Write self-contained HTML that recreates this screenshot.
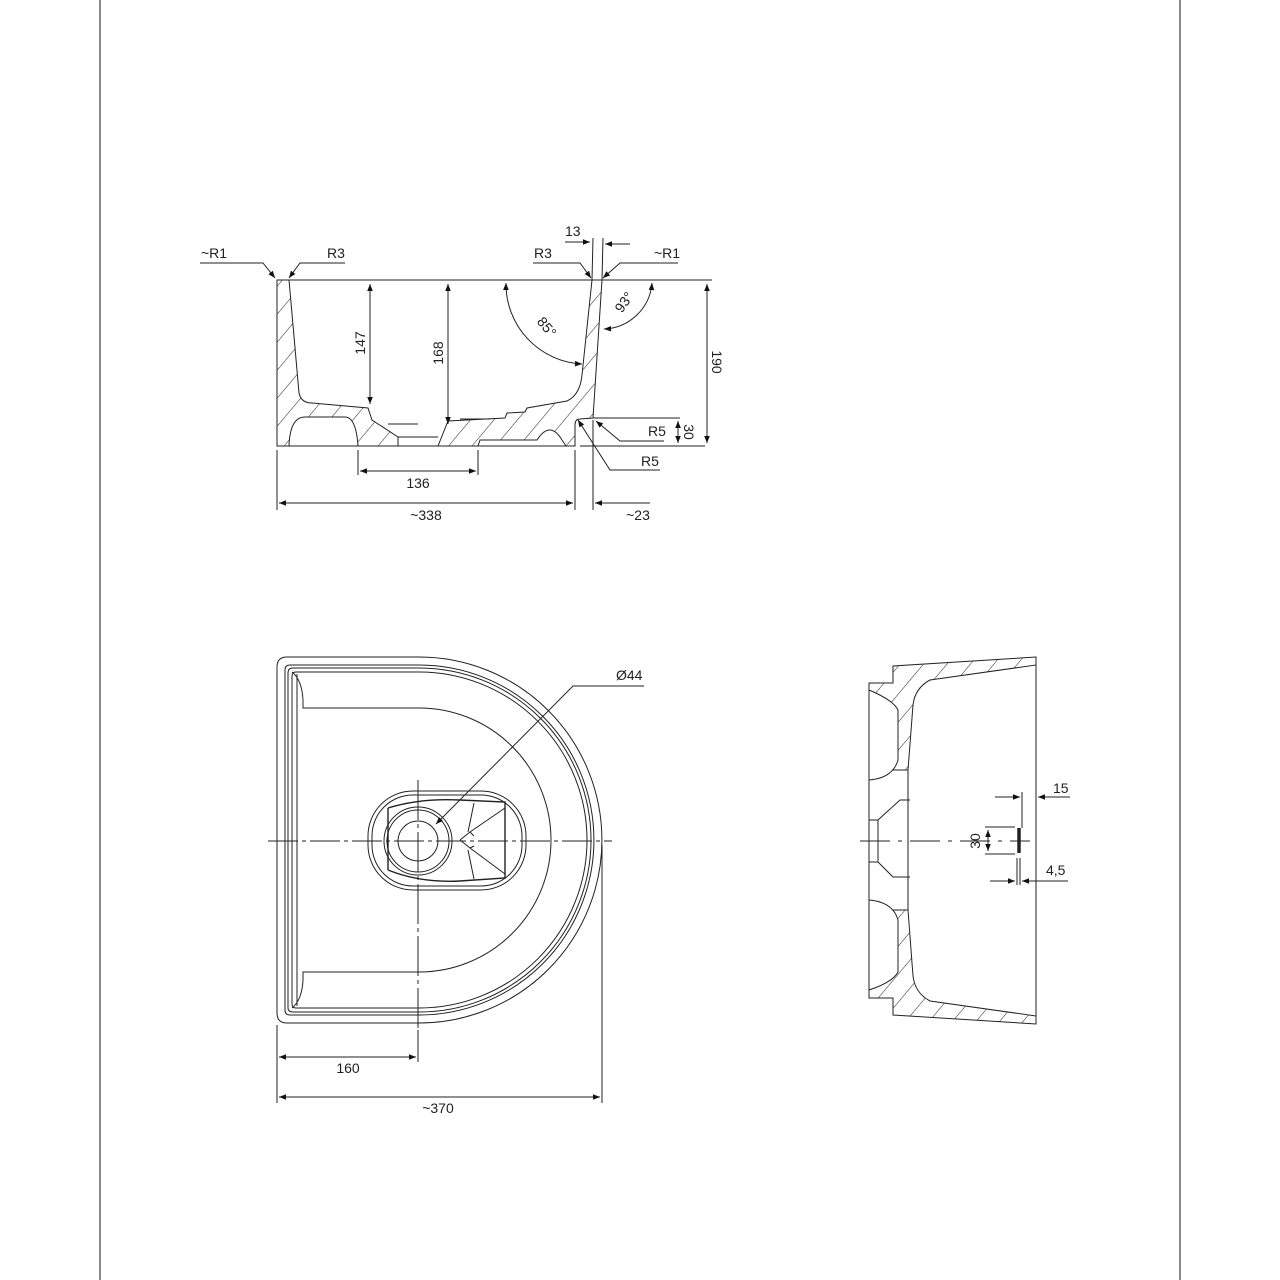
<!DOCTYPE html>
<html><head><meta charset="utf-8"><style>
html,body{margin:0;padding:0;background:#fff}
svg{display:block}
text{font-family:"Liberation Sans",sans-serif;font-size:14px;fill:#222}
</style></head><body>
<svg width="1280" height="1280" viewBox="0 0 1280 1280" xmlns="http://www.w3.org/2000/svg">
<defs>
<pattern id="h" patternUnits="userSpaceOnUse" width="18" height="18" patternTransform="rotate(40)">
<rect width="18" height="18" fill="#fff"/><line x1="0" y1="0" x2="0" y2="18" stroke="#333" stroke-width="1.1"/>
</pattern>
<marker id="a" viewBox="0 0 10 10" refX="10" refY="5" markerWidth="9" markerHeight="7" orient="auto-start-reverse" markerUnits="userSpaceOnUse"><path d="M0,1 L10,5 L0,9 z" fill="#111"/></marker>
</defs>
<g stroke="#222" fill="none" stroke-width="1">
<line x1="100" y1="0" x2="100" y2="1280" stroke="#111"/>
<line x1="1180" y1="0" x2="1180" y2="1280" stroke="#111"/>

<!-- TOP SECTION -->
<path d="M277,280 L289,280 L299,393 Q301,403 312,403 L368,408 L372,420 L398,437 L398,446 L277,446 Z" fill="url(#h)"/>
<path d="M289,446 Q290,417 305,417 L345,417 Q356,417 358,446 Z" fill="#fff"/>
<path d="M438,446 L448,421 L505,418 L507,413 L525,412 L527,408 L567,401 Q580,395 582,375 L592,280 L602,280 L593,418 L580,419 Q575,419 575,425 L575,446 Z" fill="url(#h)"/>
<path d="M478,446 L480,440 L537,440 Q550,420 562,440 L566,446 Z" fill="#fff" stroke="#222"/>
<line x1="277" y1="280" x2="712" y2="280"/>
<line x1="277" y1="446" x2="575" y2="446"/>
<line x1="580" y1="446" x2="705" y2="446"/>
<line x1="398" y1="437" x2="438" y2="437"/>
<line x1="388" y1="424" x2="418" y2="424"/>
<line x1="460" y1="419" x2="490" y2="419"/>
<line x1="593" y1="418" x2="680" y2="418"/>
<line x1="370" y1="284" x2="370" y2="404" marker-start="url(#a)" marker-end="url(#a)"/>
<line x1="448" y1="284" x2="448" y2="424" marker-start="url(#a)" marker-end="url(#a)"/>
<line x1="707" y1="284" x2="707" y2="443" marker-start="url(#a)" marker-end="url(#a)"/>
<line x1="678" y1="421" x2="678" y2="443" marker-start="url(#a)" marker-end="url(#a)"/>
<path d="M506,283 A80,80 0 0 0 582,364" marker-start="url(#a)" marker-end="url(#a)"/>
<path d="M652,283 A50,50 0 0 1 604,329" marker-start="url(#a)" marker-end="url(#a)"/>
<path d="M200,263 L263,263 L275,278" marker-end="url(#a)"/>
<path d="M345,263 L300,263 L289,278" marker-end="url(#a)"/>
<path d="M533,263 L580,263 L591,278" marker-end="url(#a)"/>
<path d="M678,263 L620,263 L603,278" marker-end="url(#a)"/>
<path d="M664,441 L620,441 L596,421" marker-end="url(#a)"/>
<path d="M660,470 L610,470 L578,420" marker-end="url(#a)"/>
<line x1="592" y1="280" x2="593" y2="238"/>
<line x1="602" y1="280" x2="603" y2="238"/>
<line x1="565" y1="242" x2="590" y2="242" marker-end="url(#a)"/>
<line x1="630" y1="244" x2="605" y2="244" marker-end="url(#a)"/>
<line x1="358" y1="450" x2="358" y2="475"/>
<line x1="478" y1="450" x2="478" y2="475"/>
<line x1="360" y1="471" x2="476" y2="471" marker-start="url(#a)" marker-end="url(#a)"/>
<line x1="277" y1="450" x2="277" y2="510"/>
<line x1="575" y1="450" x2="575" y2="510"/>
<line x1="593" y1="420" x2="593" y2="510"/>
<line x1="279" y1="503" x2="573" y2="503" marker-start="url(#a)" marker-end="url(#a)"/>
<line x1="650" y1="503" x2="595" y2="503" marker-end="url(#a)"/>

<!-- PLAN VIEW -->
<path d="M287,657 L419,657 A183,183 0 0 1 419,1023 L287,1023 Q277,1023 277,1013 L277,667 Q277,657 287,657 Z"/>
<path d="M290,665 L419,665 A175,175 0 0 1 419,1015 L290,1015 Q285,1015 285,1010 L285,670 Q285,665 290,665 Z"/>
<path d="M293,668 L419,668 A172,172 0 0 1 419,1012 L293,1012 Q288,1012 288,1008 L288,673 Q288,668 293,668 Z"/>
<path d="M296,672 L419,672 A168,168 0 0 1 419,1008 L296,1008 Q292,1008 292,1004 L292,676 Q292,672 296,672 Z"/>
<path d="M292,672 Q302,680 303,700 L303,708 L419,708 A132,132 0 0 1 419,972 L303,972 L303,980 Q302,1000 292,1008"/>
<line x1="297" y1="674" x2="297" y2="1006"/>
<rect x="368" y="791" width="158" height="99" rx="45" ry="45"/>
<rect x="372" y="795" width="150" height="91" rx="41" ry="41"/>
<path d="M388,808 L388,870 M388,808 Q420,798 460,800 L505,802 L505,878 L460,881 Q420,883 388,870" stroke-width="1.4"/>
<circle cx="418" cy="841" r="34"/>
<circle cx="418" cy="841" r="31"/>
<circle cx="418" cy="841" r="20"/>
<path d="M460,840 L470,832 L505,808 M470,832 L474,836 M460,840 L470,848 L505,874 M470,848 L474,846 M474,803 L468,832 M474,879 L468,850"/>
<line x1="268" y1="841" x2="612" y2="841" stroke-dasharray="30,4,4,4"/>
<line x1="418" y1="780" x2="418" y2="1060" stroke-dasharray="40,4,4,4"/>
<path d="M644,686 L573,686 L436,824" marker-end="url(#a)"/>
<line x1="277" y1="1025" x2="277" y2="1103"/>
<line x1="418" y1="1030" x2="418" y2="1062"/>
<line x1="602" y1="845" x2="602" y2="1103"/>
<line x1="279" y1="1057" x2="416" y2="1057" marker-start="url(#a)" marker-end="url(#a)"/>
<line x1="279" y1="1097" x2="600" y2="1097" marker-start="url(#a)" marker-end="url(#a)"/>

<!-- SIDE VIEW -->
<path d="M869,683 L893,683 L893,666 L1036,657 L1036,665 L930,680 Q915,688 913,705 L908,770 L869,770 Z" fill="url(#h)"/>
<path d="M869,998 L893,998 L893,1015 L1036,1024 L1036,1016 L930,1001 Q915,993 913,976 L908,910 L869,910 Z" fill="url(#h)"/>
<path d="M869,690 Q893,700 898,710 L898,760 Q893,778 869,780" fill="#fff"/>
<path d="M869,990 Q893,982 898,972 L898,920 Q893,902 869,900" fill="#fff"/>
<path d="M869,820 L878,820 L878,862 L869,862 M878,820 L900,800 L910,800 M878,862 L893,877 L910,877" />
<line x1="869" y1="683" x2="869" y2="998"/>
<line x1="1036" y1="657" x2="1036" y2="1024"/>
<line x1="908" y1="770" x2="908" y2="910"/>
<line x1="860" y1="841" x2="1030" y2="841" stroke-dasharray="30,8,4,8"/>
<line x1="1019" y1="828" x2="1019" y2="853" stroke-width="3.5"/>
<line x1="1022" y1="792" x2="1022" y2="828"/>
<line x1="995" y1="797" x2="1020" y2="797" marker-end="url(#a)"/>
<line x1="1070" y1="797" x2="1038" y2="797" marker-end="url(#a)"/>
<line x1="985" y1="827" x2="1015" y2="827"/>
<line x1="985" y1="854" x2="1015" y2="854"/>
<line x1="988" y1="830" x2="988" y2="851" marker-start="url(#a)" marker-end="url(#a)"/>
<line x1="1017" y1="858" x2="1017" y2="885"/>
<line x1="1020" y1="858" x2="1020" y2="885"/>
<line x1="990" y1="881" x2="1015" y2="881" marker-end="url(#a)"/>
<line x1="1068" y1="881" x2="1022" y2="881" marker-end="url(#a)"/>
</g>
<g>
<text x="201" y="258">~R1</text>
<text x="327" y="258">R3</text>
<text x="534" y="258">R3</text>
<text x="654" y="258">~R1</text>
<text x="565" y="236">13</text>
<text x="365" y="343" transform="rotate(-90 365 343)" text-anchor="middle">147</text>
<text x="443" y="353" transform="rotate(-90 443 353)" text-anchor="middle">168</text>
<text x="712" y="362" transform="rotate(90 712 362)" text-anchor="middle">190</text>
<text x="684" y="432" transform="rotate(90 684 432)" text-anchor="middle">30</text>
<text x="543" y="330" transform="rotate(50 543 330)" text-anchor="middle">85°</text>
<text x="628" y="305" transform="rotate(-55 628 305)" text-anchor="middle">93°</text>
<text x="648" y="436">R5</text>
<text x="641" y="466">R5</text>
<text x="418" y="488" text-anchor="middle">136</text>
<text x="426" y="520" text-anchor="middle">~338</text>
<text x="638" y="520" text-anchor="middle">~23</text>
<text x="616" y="680">Ø44</text>
<text x="348" y="1073" text-anchor="middle">160</text>
<text x="438" y="1113" text-anchor="middle">~370</text>
<text x="1053" y="793">15</text>
<text x="980" y="841" transform="rotate(-90 980 841)" text-anchor="middle">30</text>
<text x="1046" y="875">4,5</text>
</g>
</svg>
</body></html>
